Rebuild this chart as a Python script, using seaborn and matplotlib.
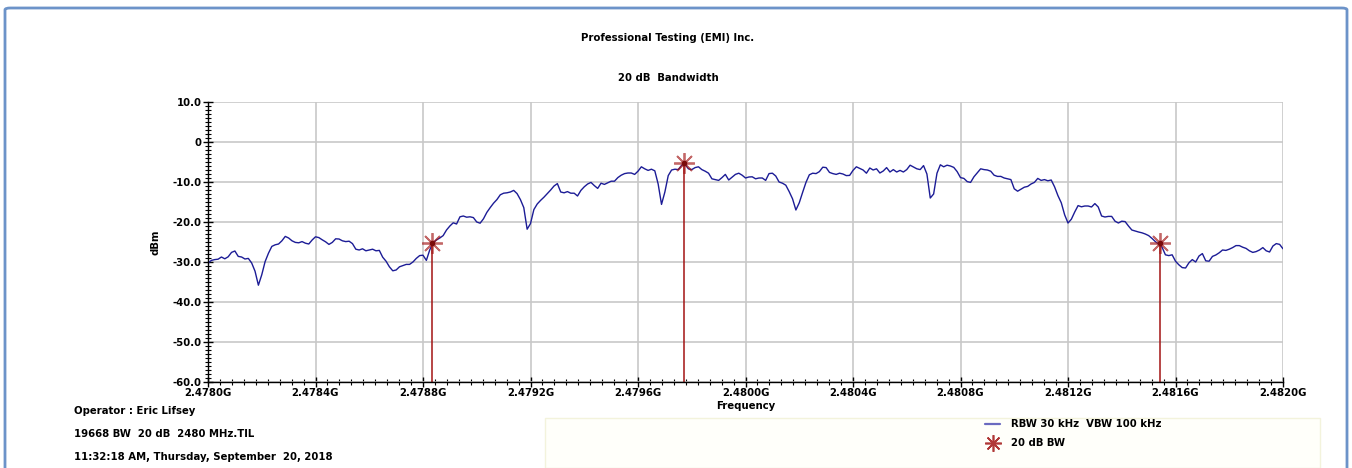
import numpy as np
import pandas as pd
import matplotlib
matplotlib.use('Agg')
import matplotlib.pyplot as plt
import seaborn as sns
from matplotlib.ticker import MultipleLocator, AutoMinorLocator, FuncFormatter
from matplotlib.patches import FancyBboxPatch, Rectangle
from matplotlib.lines import Line2D

# sweep: 2.4780 GHz .. 2.4820 GHz, trace levels in dBm
f_start = 2.4780
f_stop = 2.4820
level = [
    -30.3, -29.6, -29.4, -29.3, -28.75, -29.2, -28.7, -27.6, -27.25, -28.6,
    -28.75, -29.25, -29.1, -30.25, -32.3, -35.8, -33.2, -29.9, -27.8, -26.1,
    -25.7, -25.5, -24.7, -23.6, -24.0, -24.7, -25.1, -25.2, -24.9, -25.3,
    -25.5, -24.5, -23.7, -23.9, -24.45, -24.95, -25.6, -25.1, -24.2, -24.25,
    -24.7, -24.9, -24.8, -25.4, -26.8, -27.0, -26.7, -27.2, -27.0, -26.8,
    -27.2, -27.1, -28.8, -29.8, -31.2, -32.2, -32.0, -31.2, -30.9, -30.6,
    -30.6, -30.0, -29.1, -28.4, -28.3, -29.6, -27.0, -25.2, -24.5, -24.0,
    -23.4, -22.0, -21.0, -20.2, -20.5, -18.7, -18.5, -18.8, -18.7, -18.9,
    -20.0, -20.3, -19.2, -17.6, -16.4, -15.3, -14.4, -13.2, -12.8, -12.7,
    -12.5, -12.1, -12.9, -14.4, -16.4, -21.8, -20.4, -16.9, -15.5, -14.6,
    -13.8, -12.9, -12.0, -11.0, -10.4, -12.5, -12.7, -12.4, -12.8, -12.8,
    -13.5, -12.1, -11.2, -10.5, -10.1, -10.9, -11.6, -10.3, -10.6, -10.2,
    -9.8, -9.8, -8.9, -8.3, -7.9, -7.75, -7.75, -8.1, -7.3, -6.2,
    -6.7, -7.1, -6.8, -7.2, -10.5, -15.6, -12.5, -8.4, -7.0, -6.8,
    -6.9, -5.8, -5.6, -6.7, -6.9, -6.4, -6.2, -6.9, -7.3, -7.8,
    -9.2, -9.4, -9.6, -8.9, -8.1, -9.5, -8.8, -8.1, -7.8, -8.3,
    -9.0, -8.75, -8.7, -9.2, -9.0, -9.0, -9.6, -7.9, -7.8, -8.5,
    -10.0, -10.3, -10.8, -12.4, -14.2, -17.0, -15.2, -12.6, -10.1, -8.2,
    -7.8, -7.9, -7.4, -6.3, -6.4, -7.6, -7.9, -8.1, -7.8, -8.0,
    -8.4, -8.35, -7.1, -6.2, -6.6, -7.0, -7.8, -6.5, -7.0, -6.7,
    -7.75, -7.25, -6.4, -7.5, -6.9, -7.5, -7.1, -7.5, -6.9, -5.8,
    -6.25, -6.7, -6.9, -5.9, -8.0, -14.0, -13.0, -7.8, -5.7, -6.2,
    -5.8, -6.0, -6.35, -7.4, -8.9, -9.1, -9.9, -10.1, -8.7, -7.7,
    -6.7, -6.9, -7.0, -7.3, -8.3, -8.6, -8.6, -9.0, -9.2, -9.4,
    -11.7, -12.3, -11.8, -11.3, -11.1, -10.5, -10.1, -9.1, -9.6, -9.4,
    -9.7, -9.5, -11.2, -13.4, -15.2, -18.2, -20.25, -19.3, -17.5, -15.9,
    -16.2, -16.0, -16.0, -16.25, -15.4, -16.25, -18.5, -18.75, -18.6, -18.6,
    -19.8, -20.25, -19.8, -19.9, -21.0, -22.0, -22.25, -22.5, -22.7, -23.0,
    -23.4, -24.1, -24.9, -25.55, -26.3, -28.2, -28.4, -28.2, -29.8, -30.7,
    -31.4, -31.5, -30.2, -29.4, -30.0, -28.5, -27.9, -29.7, -29.8, -28.6,
    -28.25, -27.7, -27.0, -27.1, -26.8, -26.4, -25.9, -25.9, -26.3, -26.6,
    -27.2, -27.6, -27.4, -27.0, -26.4, -27.2, -27.5, -26.0, -25.4, -25.6,
    -26.7,
]

# 20 dB bandwidth markers
marker_freq = [2.478832, 2.479772, 2.481542]
marker_level = [-25.3, -5.3, -25.3]

info_lines = [
    'Operator : Eric Lifsey',
    '19668 BW  20 dB  2480 MHz.TIL',
    '11:32:18 AM, Thursday, September  20, 2018',
]

df = pd.DataFrame({'freq': np.linspace(f_start, f_stop, len(level)), 'dBm': level})

sns.set_style('whitegrid')
plt.rcParams['font.family'] = ['DejaVu Sans']
plt.rcParams['font.weight'] = 'bold'
plt.rcParams['text.color'] = 'black'
plt.rcParams['axes.labelcolor'] = 'black'
plt.rcParams['xtick.color'] = 'black'
plt.rcParams['ytick.color'] = 'black'
fs = 7.3

fig = plt.figure(figsize=(13.52, 4.68), dpi=100)
ax = fig.add_axes([208 / 1352, 1 - 382 / 468, 1075 / 1352, 280 / 468])

trace_color = '#1c1c96'
red = '#a31515'

sns.lineplot(data=df, x='freq', y='dBm', ax=ax, color=trace_color, linewidth=1.0)
ax.vlines(marker_freq, -60, marker_level, color=red, linewidth=1.3, alpha=0.85)
ax.plot(marker_freq, marker_level, linestyle='none', marker=(8, 2, 0),
        markersize=15, markeredgewidth=1.3, color=red, alpha=0.65)
ax.plot(marker_freq, marker_level, linestyle='none', marker='o',
        markersize=3, color='#7a0a0a')

ax.set_xlim(f_start, f_stop)
ax.set_ylim(-60, 10)
ax.xaxis.set_major_locator(MultipleLocator(0.0004))
ax.xaxis.set_minor_locator(AutoMinorLocator(9))
ax.yaxis.set_major_locator(MultipleLocator(10))
ax.yaxis.set_minor_locator(AutoMinorLocator(10))
ax.xaxis.set_major_formatter(FuncFormatter(lambda v, p: f'{v:.4f}G'))
ax.yaxis.set_major_formatter(FuncFormatter(lambda v, p: '0' if abs(v) < 1e-9 else f'{v:.1f}'))

ax.grid(True, which='major', color='#c8c8c8', linewidth=1.2)
ax.grid(False, which='minor')
for side in ['top', 'right']:
    ax.spines[side].set_visible(False)
for side in ['left', 'bottom']:
    ax.spines[side].set_visible(True)
    ax.spines[side].set_color('black')
    ax.spines[side].set_linewidth(1.0)

ax.tick_params(which='major', direction='inout', length=7, width=1, color='black',
               labelcolor='black', labelsize=fs, pad=1, left=True, bottom=True)
ax.tick_params(which='minor', direction='inout', length=5, width=0.8, color='black',
               left=True, bottom=True)
for lab in ax.get_xticklabels() + ax.get_yticklabels():
    lab.set_fontweight('bold')

ax.set_xlabel('Frequency', fontsize=fs, fontweight='bold', labelpad=2, color='black')
ax.set_ylabel('dBm', fontsize=fs, fontweight='bold', labelpad=9, color='black')

fig.text(0.494, 1 - 38 / 468, 'Professional Testing (EMI) Inc.', ha='center', va='center',
         fontsize=fs, fontweight='bold', color='black')
fig.text(0.494, 1 - 78 / 468, '20 dB  Bandwidth', ha='center', va='center',
         fontsize=fs, fontweight='bold', color='black')

for k, line in enumerate(info_lines):
    fig.text(74 / 1352, 1 - (411 + 23 * k) / 468, line, ha='left', va='center',
             fontsize=fs, fontweight='bold', color='black')

# faint legend panel
fig.patches.append(Rectangle((545 / 1352, 0.0), 775 / 1352, 50 / 468,
                             transform=fig.transFigure, facecolor='#fffffa',
                             edgecolor='#f3f3dc', linewidth=1.0, zorder=0))

handles = [
    Line2D([], [], color='#6a6ac0', linewidth=1.6),
    Line2D([], [], linestyle='none', marker=(8, 2, 0), markersize=12,
           markeredgewidth=1.2, color=red, alpha=0.85),
]
leg = fig.legend(handles, ['RBW 30 kHz  VBW 100 kHz', '20 dB BW'],
                 loc='upper left', bbox_to_anchor=(976 / 1352, 1 - 410 / 468),
                 frameon=False, handlelength=1.5, handletextpad=1.1,
                 labelspacing=0.9, prop={'weight': 'bold', 'size': fs})
for t in leg.get_texts():
    t.set_color('black')

# outer blue frame
fig.patches.append(FancyBboxPatch((5 / 1352, -0.02), 1342 / 1352, 1 - 8 / 468 + 0.02,
                                  boxstyle='round,pad=0,rounding_size=0.004',
                                  transform=fig.transFigure, facecolor='none',
                                  edgecolor='#6c93c9', linewidth=2.0))

fig.savefig('out.png', dpi=100)
